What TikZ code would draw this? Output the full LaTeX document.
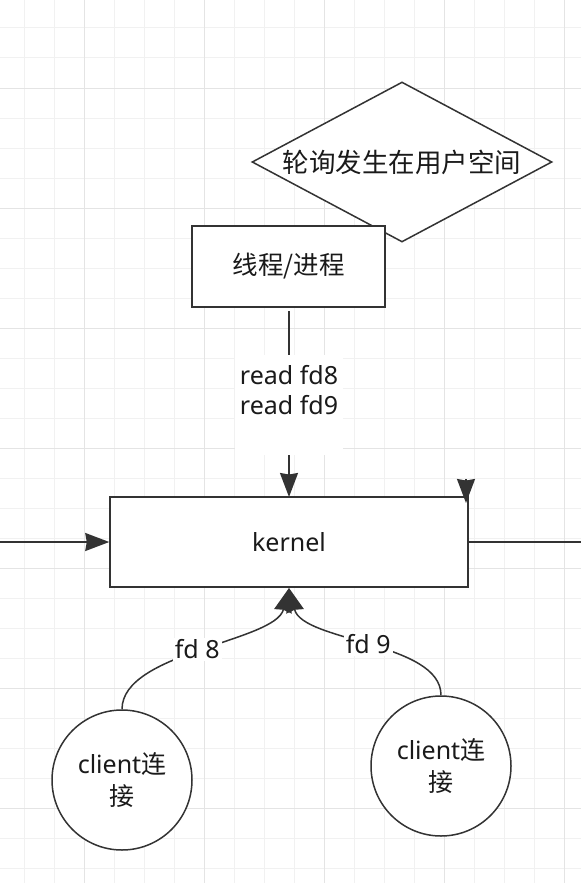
\documentclass[tikz,border=0pt]{standalone}
\usepackage{fontspec}
\setmainfont{Noto Sans}
\newfontfamily\cjk{Noto Sans CJK SC}
\usetikzlibrary{shapes.geometric,arrows.meta}
\definecolor{ln}{HTML}{333333}
\definecolor{gridminor}{HTML}{F1F1F1}
\definecolor{gridmajor}{HTML}{E4E4E4}
\definecolor{txt}{HTML}{1A1A1A}
\begin{document}
\begin{tikzpicture}[x=1pt,y=-1pt,
  every node/.style={font=\fontsize{25}{30}\selectfont, text=txt},
  box/.style={draw=ln, line width=1.5pt, fill=white, inner sep=0pt, rectangle},
  decision/.style={draw=ln, line width=1.5pt, fill=white, inner sep=0pt, diamond, aspect=1.875, minimum width=300pt, minimum height=160pt, font=\fontsize{26.5}{30}\selectfont},
  client/.style={draw=ln, line width=1.5pt, fill=white, inner sep=0pt, circle, minimum size=140pt, align=center, font=\fontsize{25}{32}\selectfont},
  conn/.style={draw=ln, line width=1.5pt},
  arr/.style={conn, -{Stealth[length=24pt,width=18pt,inset=1.5pt]}},
  lbl/.style={fill=white, inner sep=2pt}
]
\useasboundingbox (0,0) rectangle (581,883);
\fill[white] (0,0) rectangle (581,883);
% grid
\foreach \x in {24,54,...,564} \draw[gridminor, line width=1pt] (\x,0) -- (\x,883);
\foreach \y in {28,58,...,868} \draw[gridminor, line width=1pt] (0,\y) -- (581,\y);
\foreach \x in {84,204,324,444,564} \draw[gridmajor, line width=1pt] (\x,0) -- (\x,883);
\foreach \y in {88,208,328,448,568,688,808} \draw[gridmajor, line width=1pt] (0,\y) -- (581,\y);

% nodes
\node[decision] (poll) at (402,162) {\cjk 轮询发生在用户空间};
\node[box, minimum width=193pt, minimum height=81pt, font=\fontsize{25.5}{30}\selectfont] (proc) at (288.5,266.5) {\cjk 线程/进程};
\node[box, minimum width=358pt, minimum height=90pt] (kernel) at (289,542) {kernel};
\node[client] (c1) at (122,780) {client{\cjk 连}\\{\cjk 接}};
\node[client] (c2) at (441,766) {client{\cjk 连}\\{\cjk 接}};

\coordinate (procout) at (289,311);
\coordinate (kin) at (289,497);
\coordinate (kbot) at (289,588);
\coordinate (lin) at (0,542);
\coordinate (rout) at (581,542);
\coordinate (tipA) at (466,479);
\coordinate (tipB) at (466,503);

% connectors
\draw[arr] (procout) -- (kin);
\node[lbl, minimum width=108pt, minimum height=100pt, align=center, inner sep=0pt] (readlbl) at (289,405) {read fd8\\read fd9\\\mbox{}};
\draw[arr] (lin) -- (kernel.west);
\draw[conn] (kernel.east) -- (rout);
\draw[arr] (tipA) -- (tipB);

\draw[arr] (c1.north) .. controls (122,652) and (275,642) .. (kbot)
  node[lbl, pos=0.5, xshift=-3pt, yshift=-2pt] (fd8) {fd 8};
\draw[arr] (c2.north) .. controls (441,642) and (303,642) .. (kbot)
  node[lbl, pos=0.5, xshift=-2pt, yshift=-2pt] (fd9) {fd 9};
\end{tikzpicture}
\end{document}
